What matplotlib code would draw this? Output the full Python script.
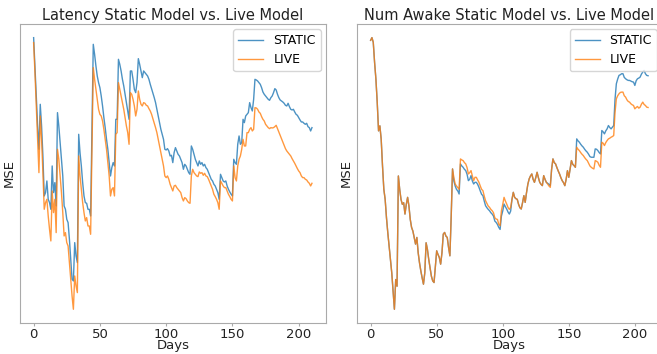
import numpy as np
import matplotlib
matplotlib.use("Agg")
import matplotlib.pyplot as plt

# MSE values (arbitrary units, y ticks hidden)
latency_static = [
    88.5, 80, 71, 62, 55, 68.5, 62, 53, 41, 42,
    45.5, 40, 39, 37, 50, 42, 45, 38, 66, 62,
    57, 52, 47, 38, 37, 34, 33, 28, 22, 16,
    15.5, 27, 23, 21, 59.5, 54, 50, 45, 41, 39,
    38.8, 37, 37, 35, 60, 86.5, 83.5, 80, 77, 75,
    73.5, 71, 68, 64.5, 61.5, 58, 55, 51, 47, 49.5,
    51, 50, 64, 64, 82, 80.5, 78.5, 76, 74, 71.5,
    69, 66.5, 64, 78.5, 78.5, 76, 73, 72, 75, 82.2,
    80.5, 78.5, 76.5, 78.5, 78, 77.5, 77, 76, 74.5, 73.2,
    72, 70.5, 69, 67, 65, 63, 61, 59.5, 58, 55,
    54.8, 55.2, 54.5, 53, 53.2, 51, 54, 55.5, 54.5, 53.5,
    53, 52, 51, 49, 50.5, 50, 49, 48, 47.5, 56,
    55, 53.5, 52, 51, 50, 51.5, 50.5, 51, 50, 50.5,
    49.5, 49, 48, 47, 46, 45.5, 44.5, 44, 43, 42,
    40, 47.5, 46.5, 45.5, 45.2, 45.5, 44, 43, 42.2, 41.5,
    41, 52, 51, 50.5, 56.5, 59, 56.5, 57, 64, 63,
    65, 65.5, 66, 69, 67.5, 66.5, 70, 76, 75.8, 75.5,
    75, 74.5, 73.5, 72.2, 71.5, 71, 70.5, 70, 69.7, 70.5,
    71, 72, 73.2, 72.8, 71.5, 70.5, 69.8, 69.5, 69.2, 68.8,
    68.2, 68, 68.8, 67.8, 67, 66.8, 67, 66.2, 65.5, 65.2,
    64.5, 63.8, 63.2, 63.2, 62.8, 62.5, 62.8, 61.8, 61.5, 60.5,
    61.5,
]
latency_live = [
    87, 78, 68, 58, 48, 65, 58, 48, 37, 39,
    40, 35, 31, 27.5, 42.5, 36, 40, 30, 55, 52,
    47, 42, 36, 29, 30, 27, 26, 21, 16, 11,
    7, 17, 14, 12, 53, 47, 43, 39, 36, 33.5,
    34.5, 32, 32, 29.5, 55, 79.5, 76, 73, 70, 67,
    65.5, 65, 63.5, 61, 58, 55, 51, 47, 41, 43,
    43.5, 41, 59.5, 60, 75, 73, 71, 69, 67, 64.5,
    62, 60, 56.5, 72, 71.5, 70, 68, 65, 67, 72.5,
    70, 68.5, 68, 69, 68.8, 68.2, 68, 67.2, 66.5, 65.5,
    64.2, 63, 61.5, 60, 58, 56, 54, 52, 50, 47,
    46.5, 47, 46, 44.5, 43.5, 42.5, 44, 44.2, 43.5, 43,
    42.5, 42, 40.5, 39.5, 40.5, 40.2, 39.5, 39, 38.8, 47,
    49, 48, 47.5, 47, 46.8, 48.2, 47.8, 48, 47.2, 47.8,
    47, 46.8, 46, 45, 44, 43, 41.5, 40.8, 40, 39,
    37, 45.5, 44.8, 44, 43.5, 43.5, 42.5, 41.5, 40.8, 40,
    39.5, 50, 46.5, 45.5, 50, 52, 53, 55, 58, 56,
    56, 60, 60, 61, 61.5, 60.5, 61, 67.5, 67.4, 67,
    66.2, 65.8, 64.8, 64, 63.5, 62.5, 62, 61.5, 61.2, 61.5,
    61.4, 61.5, 61.8, 62.2, 61.2, 60.2, 59.2, 58.2, 57.2, 56.2,
    55.2, 54.5, 54, 53.5, 53, 52.2, 51.5, 50.8, 50, 49.2,
    48.5, 48, 47, 46.5, 46.5, 46, 45.8, 45.2, 44.8, 44,
    44.8,
]
awake_static = [
    87.6, 88.4, 87, 81, 76, 69, 60.5, 62, 58, 50,
    43, 40, 34.5, 30, 26, 22, 18, 12.6, 7.1, 16,
    14, 47, 43, 40, 38.5, 39, 35.6, 38.5, 40.6, 38,
    34, 31.6, 30.5, 28.6, 26.6, 28.6, 24, 21, 18.6, 16.5,
    14.6, 18, 27, 25, 22, 19.6, 17, 15.6, 15.1, 20,
    24.6, 23.5, 22.6, 20.6, 24, 29.6, 30.1, 29, 28.6, 25.6,
    23.1, 35, 49.1, 45.5, 44, 43, 42.5, 41.6, 50.6, 50,
    49.6, 49, 48.6, 47.5, 45.6, 46, 47.1, 45.5, 44.6, 45.1,
    45.1, 44.5, 43.6, 42.5, 41.5, 41.1, 39.5, 38.1, 37.5, 37,
    36.6, 36, 35.6, 35, 33.5, 33.1, 32.5, 31.6, 31, 35,
    36.5, 38.6, 37.8, 37.1, 36.2, 35.6, 36.5, 40, 42.1, 40.6,
    40.2, 40, 38.5, 37.5, 37.1, 39, 41.1, 39.1, 42, 44.5,
    46.1, 47, 47.6, 46, 45.1, 46.5, 48.1, 46.5, 45.1, 44.5,
    44.1, 47.1, 46, 45.1, 44.8, 44.5, 44.1, 49, 52.1, 51,
    50.6, 49.5, 48.5, 47.6, 46.5, 45.6, 45, 44.1, 46, 48.6,
    46.6, 49, 51.6, 50.5, 50.1, 49.6, 58.1, 57.5, 57.1, 56.5,
    56, 55.6, 55, 54.5, 54.1, 53.5, 52.8, 52.6, 52.6, 52.6,
    55.1, 55, 54.6, 54, 53.6, 60.6, 60.2, 59.6, 60.5, 61.1,
    62.1, 61.5, 61.1, 61.6, 62.1, 70, 74.6, 76, 77.1, 77.3,
    77.6, 77.6, 76.5, 76.1, 75.8, 75.6, 75.6, 75.4, 75.2, 75.1,
    74.1, 75.5, 76.1, 76.3, 76.6, 77.5, 78.1, 78.6, 77.6, 77.1,
    77.0,
]
awake_live = [
    87.6, 88.4, 87, 81, 76, 69, 60.5, 62, 58, 50,
    43, 40, 34.5, 30, 26, 22, 18, 12.6, 7.1, 16,
    14, 47, 43, 40, 38.5, 39, 35.6, 38.5, 40.6, 38,
    34, 31.6, 30.5, 28.6, 26.6, 28.6, 24, 21, 18.6, 16.5,
    14.6, 18, 27, 25, 22, 19.6, 17, 15.6, 15.1, 20,
    24.6, 23.5, 22.6, 20.6, 24, 29.6, 30.1, 29, 28.6, 25.6,
    23.1, 35, 49.1, 46.5, 44.6, 44, 43.5, 43, 52.1, 51.8,
    51.6, 51, 50.6, 49.5, 47.6, 48, 48.6, 47, 45.6, 46.6,
    46.6, 45.8, 45.1, 44, 43, 42.6, 41, 39.6, 38.8, 38,
    37.6, 37, 36.6, 36, 34.5, 34.1, 34, 32.5, 32.1, 36.6,
    38.5, 40.6, 39.5, 38.6, 37.6, 37, 37.6, 40, 42.1, 40.6,
    40.2, 40, 38.5, 37.5, 37.1, 39, 41.1, 39.1, 42, 44.5,
    46.1, 47, 47.6, 46, 45.1, 46.5, 48.1, 46.5, 45.1, 44.5,
    44.1, 47.1, 46, 45.1, 44.6, 44, 43.6, 49, 52.1, 51,
    50.6, 49.5, 48.5, 47.6, 46.5, 45.6, 45, 44.1, 46, 48.6,
    46.6, 49, 51.6, 50.5, 50.1, 49.6, 55.6, 55, 54.6, 54,
    53.5, 53.1, 52.5, 52, 51.6, 50.8, 50, 49.6, 49.3, 49.1,
    51.6, 51.4, 51.1, 50.2, 49.6, 57.1, 56.8, 56.1, 57, 57.6,
    58.1, 58.3, 58.6, 58.8, 59.1, 66, 70.1, 71, 71.6, 72,
    72.1, 72.1, 71, 70.6, 69.8, 69.3, 69.1, 68.6, 68.3, 68.1,
    67.1, 67.5, 67.8, 67.3, 67.6, 68.5, 69.1, 68.4, 68.1, 67.6,
    67.5,
]

titles = ["Latency Static Model vs. Live Model",
          "Num Awake Static Model vs. Live Model"]
series = [(latency_static, latency_live), (awake_static, awake_live)]

fig = plt.figure(figsize=(6.57, 3.54), dpi=100)
positions = [[0.030, 0.088, 0.466, 0.844],
             [0.543, 0.088, 0.4645, 0.844]]

for pos, title, (static, live) in zip(positions, titles, series):
    ax = fig.add_axes(pos)
    days = np.arange(len(static))
    ax.plot(days, static, color="tab:blue", lw=1.0, alpha=0.8, label="STATIC")
    ax.plot(np.arange(len(live)), live, color="tab:orange", lw=1.0, alpha=0.8, label="LIVE")
    ax.set_title(title, fontsize=10.5, color="#222222", pad=3)
    ax.set_xlabel("Days", fontsize=9.5, color="#222222", labelpad=-1)
    ax.set_ylabel("MSE", fontsize=9.5, color="#222222", labelpad=3)
    ax.set_yticks([])
    ax.set_xticks([0, 50, 100, 150, 200])
    ax.tick_params(axis="x", labelsize=9.5, colors="#aaaaaa", labelcolor="#222222",
                   length=2, pad=1.5)
    for sp in ax.spines.values():
        sp.set_color("#aaaaaa")
    ax.legend(loc="upper right", fontsize=9, borderaxespad=0.4)

plt.savefig("out.png", dpi=100)
plt.close("all")
